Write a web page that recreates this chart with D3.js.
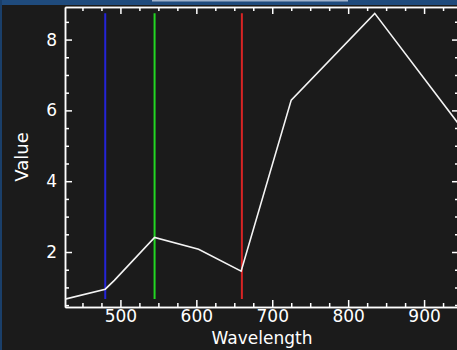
<!DOCTYPE html>
<html>
<head>
<meta charset="utf-8">
<script src="https://cdn.jsdelivr.net/npm/d3@7"></script>
<style>
  html, body { margin: 0; padding: 0; background: #1b1b1b; }
  svg { display: block; }
  .axis path, .axis line { stroke: #fff; stroke-width: 1.5px; }
  .axis text { fill: #fff; font-family: 'DejaVu Sans', sans-serif; font-size: 17px; }
</style>
</head>
<body>
<div id="plot"></div>
<script>
// spectrum samples (wavelength, value)
const wavelengths = [427, 480, 492, 545, 603, 659, 725, 835, 946];
const values = [0.67, 0.95, 1.2, 2.41, 2.08, 1.46, 6.29, 8.74, 5.6];

// band markers
const bandNames = ['Blue', 'Green', 'Red'];
const bandWavelengths = [480, 545, 660];
const bandColors = ['#2424d8', '#22d622', '#d82424'];

const xTicks = [500, 600, 700, 800, 900];
const yTicks = [2, 4, 6, 8];

const width = 457, height = 350;
const margin = {top: 7, right: -2, bottom: 43, left: 65};
const plotW = width - margin.left - margin.right;
const plotH = height - margin.top - margin.bottom;

const svg = d3.select('#plot').append('svg')
    .attr('width', width)
    .attr('height', height);

svg.append('rect')
    .attr('width', width).attr('height', height)
    .attr('fill', '#1b1b1b');

// window frame bits
svg.append('rect').attr('x', 0).attr('y', 0).attr('width', width).attr('height', 5).attr('fill', '#1f4b7d');
svg.append('rect').attr('x', 152).attr('y', 0).attr('width', 196).attr('height', 1.5).attr('fill', '#9fb2cc');
svg.append('rect').attr('x', 0).attr('y', 0).attr('width', 2).attr('height', height).attr('fill', '#1a3f6a');

const xs = d3.scaleLinear().domain([427, 946]).range([0, plotW]);
const ys = d3.scaleLinear().domain([0.447, 8.92]).range([plotH, 0]);

const chart = svg.append('g')
    .attr('transform', 'translate(' + margin.left + ',' + margin.top + ')');

chart.append('clipPath').attr('id', 'clip')
    .append('rect').attr('width', plotW).attr('height', plotH);

const minorX = d3.range(450, 946, 25).filter(d => d % 100 !== 0);
const minorY = d3.range(0.5, 8.92, 0.5).filter(d => d % 2 !== 0);

// bottom axis
const xAxis = chart.append('g').attr('class', 'axis')
    .attr('transform', 'translate(0,' + plotH + ')')
    .call(d3.axisBottom(xs).tickValues(xTicks).tickSize(-7).tickSizeOuter(0).tickPadding(3));
xAxis.selectAll('text').attr('dy', '0.71em');
chart.append('g').attr('class', 'axis')
    .attr('transform', 'translate(0,' + plotH + ')')
    .call(d3.axisBottom(xs).tickValues(minorX).tickSize(-4).tickSizeOuter(0).tickFormat(''));

// top axis
chart.append('g').attr('class', 'axis')
    .call(d3.axisTop(xs).tickValues(xTicks).tickSize(-7).tickSizeOuter(0).tickFormat(''));
chart.append('g').attr('class', 'axis')
    .call(d3.axisTop(xs).tickValues(minorX).tickSize(-4).tickSizeOuter(0).tickFormat(''));

// left axis
chart.append('g').attr('class', 'axis')
    .call(d3.axisLeft(ys).tickValues(yTicks).tickSize(-7).tickSizeOuter(0).tickPadding(8));
chart.append('g').attr('class', 'axis')
    .call(d3.axisLeft(ys).tickValues(minorY).tickSize(-4).tickSizeOuter(0).tickFormat(''));

// right axis
chart.append('g').attr('class', 'axis')
    .attr('transform', 'translate(' + plotW + ',0)')
    .call(d3.axisRight(ys).tickValues(yTicks).tickSize(-7).tickSizeOuter(0).tickFormat(''));
chart.append('g').attr('class', 'axis')
    .attr('transform', 'translate(' + plotW + ',0)')
    .call(d3.axisRight(ys).tickValues(minorY).tickSize(-4).tickSizeOuter(0).tickFormat(''));

// band markers span the data range
const vExtent = d3.extent(values);
chart.selectAll('.band')
    .data(bandWavelengths)
    .enter()
    .append('line')
    .attr('class', 'band')
    .attr('x1', d => xs(d)).attr('x2', d => xs(d))
    .attr('y1', ys(vExtent[0])).attr('y2', ys(vExtent[1]))
    .style('stroke', (d, i) => bandColors[i])
    .style('stroke-width', '2px');

const points = wavelengths.map((w, i) => ({w: w, v: values[i]}));
const lineGenerator = d3.line()
    .x(d => xs(d.w))
    .y(d => ys(d.v));

chart.append('path')
    .datum(points)
    .attr('d', lineGenerator)
    .attr('clip-path', 'url(#clip)')
    .style('fill', 'none')
    .style('stroke', '#f4f4f4')
    .style('stroke-width', '1.6px');

// axis titles
svg.append('text')
    .attr('x', margin.left + plotW / 2)
    .attr('y', 344)
    .style('text-anchor', 'middle')
    .style('fill', '#fff')
    .style('font-family', 'DejaVu Sans, sans-serif')
    .style('font-size', '17px')
    .text('Wavelength');

svg.append('text')
    .attr('transform', 'translate(28,' + (margin.top + plotH / 2) + ') rotate(-90)')
    .style('text-anchor', 'middle')
    .style('fill', '#fff')
    .style('font-family', 'DejaVu Sans, sans-serif')
    .style('font-size', '18px')
    .text('Value');
</script>
</body>
</html>
